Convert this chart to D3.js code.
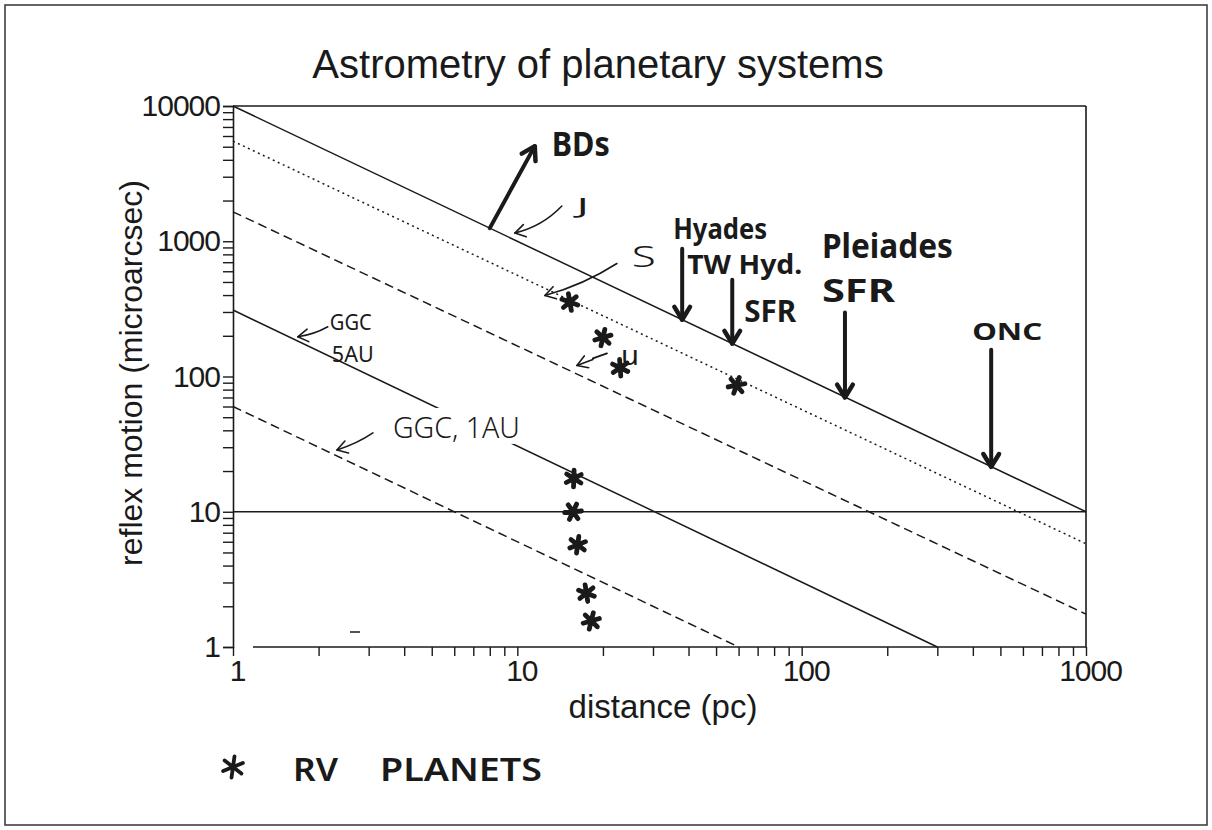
<!DOCTYPE html>
<html>
<head>
<meta charset="utf-8">
<script src="https://cdn.jsdelivr.net/npm/d3@7"></script>
<style>
  html, body { margin: 0; padding: 0; background: #fff; }
  svg { display: block; }
</style>
</head>
<body>
<svg id="chart" width="1212" height="830"></svg>
<script>
// ---- axis ticks ----
const xTickLabels = [1, 10, 100, 1000];
const yTickLabels = [1, 10, 100, 1000, 10000];

// ---- reference lines: endpoints as [distance (pc), reflex motion (microarcsec)] ----
const lineNames = ["BD limit", "Jupiter", "Saturn", "GGC 5AU", "GGC 1AU", "10 microarcsec"];
const lineFrom  = [[1, 10000], [1, 5500], [1, 1650], [1, 310], [1, 60], [1, 10]];
const lineTo    = [[1000, 10], [1000, 5.8], [1000, 1.75], [300, 1], [60, 1], [1000, 10]];
const lineDash  = [null, "2,3.5", "9,5", null, "9,5", null];

// ---- radial-velocity planets ----
const rvDist   = [15.3, 20, 23, 59, 15.8, 15.7, 16.3, 17.5, 18.2];
const rvMotion = [355, 194, 116, 86, 17.6, 10, 5.7, 2.5, 1.56];

// ---- star-forming regions / clusters (arrow tip sits on the BD line) ----
const clusterNames  = ["Hyades", "TW Hyd.", "Pleiades", "ONC"];
const clusterDist   = [38, 57, 142, 464];
const clusterMotion = [263, 175, 70, 21.5];

const W = 1212, H = 830;
const svg = d3.select("#chart");
const ink = "#1a1a1a";
const axisFont = "'Liberation Sans', Arial, Helvetica, sans-serif";
const handFont = "'Noto Sans', 'DejaVu Sans', sans-serif";

// page frame
svg.append("rect").attr("x", 5).attr("y", 5).attr("width", W - 10).attr("height", H - 10)
  .attr("fill", "none").attr("stroke", "#333").attr("stroke-width", 1.5);

const x = d3.scaleLog().domain([1, 1000]).range([233, 1086]);
const y = d3.scaleLog().domain([1, 10000]).range([647, 106]);

// title
svg.append("text").attr("x", 598).attr("y", 78).attr("text-anchor", "middle")
  .attr("font-family", axisFont).attr("font-size", 40).attr("fill", ink)
  .text("Astrometry of planetary systems");

// ---- axes ----
const gy = svg.append("g").attr("transform", `translate(${x(1)},0)`)
  .call(d3.axisLeft(y).tickValues(y.ticks()).tickSize(10).tickPadding(3)
    .tickFormat(d => yTickLabels.includes(d) ? String(d) : ""));
gy.select(".domain").attr("stroke", ink).attr("stroke-width", 1.6);
gy.selectAll(".tick line").attr("stroke", ink).attr("stroke-width", 1.4);
gy.selectAll(".tick text").attr("font-family", axisFont).attr("font-size", 30)
  .attr("fill", ink).attr("letter-spacing", -1);

const gx = svg.append("g").attr("transform", `translate(0,${y(1)})`)
  .call(d3.axisBottom(x).tickValues(x.ticks()).tickSize(9).tickPadding(4)
    .tickFormat(d => xTickLabels.includes(d) ? String(d) : ""));
gx.select(".domain").remove();
gx.selectAll(".tick line").attr("stroke", ink).attr("stroke-width", 1.4);
gx.selectAll(".tick text").attr("font-family", axisFont).attr("font-size", 30)
  .attr("fill", ink).attr("dx", 4).attr("letter-spacing", -1);

// bottom axis rule (starts a little right of the corner), top and right frame
svg.append("line").attr("x1", x(1) + 20).attr("x2", x(1000)).attr("y1", y(1)).attr("y2", y(1))
  .attr("stroke", ink).attr("stroke-width", 1.6);
svg.append("line").attr("x1", x(1)).attr("x2", x(1000)).attr("y1", y(10000)).attr("y2", y(10000))
  .attr("stroke", ink).attr("stroke-width", 1.6);
svg.append("line").attr("x1", x(1000)).attr("x2", x(1000)).attr("y1", y(10000)).attr("y2", y(1))
  .attr("stroke", ink).attr("stroke-width", 1.6);

// axis titles
svg.append("text").attr("x", 663).attr("y", 718).attr("text-anchor", "middle")
  .attr("font-family", axisFont).attr("font-size", 33).attr("fill", ink)
  .text("distance (pc)");
svg.append("text").attr("transform", "translate(142,373) rotate(-90)").attr("text-anchor", "middle")
  .attr("font-family", axisFont).attr("font-size", 32).attr("fill", ink)
  .text("reflex motion (microarcsec)");

// ---- reference lines ----
const lineGen = d3.line().x(d => x(d[0])).y(d => y(d[1]));
lineNames.forEach((name, i) => {
  svg.append("path").datum([lineFrom[i], lineTo[i]])
    .attr("class", "ref-line").attr("data-name", name)
    .attr("d", lineGen).attr("fill", "none").attr("stroke", ink)
    .attr("stroke-width", 1.5)
    .attr("stroke-dasharray", lineDash[i]);
});

// ---- hand annotations ----
const hand = svg.append("g").attr("class", "annotations");

function head(g, x1, y1, x2, y2, len, width) {
  const a = Math.atan2(y2 - y1, x2 - x1);
  const s = 0.55;
  const p = [
    [x2 - len * Math.cos(a - s), y2 - len * Math.sin(a - s)],
    [x2, y2],
    [x2 - len * Math.cos(a + s), y2 - len * Math.sin(a + s)]
  ];
  g.append("path").attr("d", d3.line()(p)).attr("fill", "none").attr("stroke", ink)
    .attr("stroke-width", width).attr("stroke-linecap", "round").attr("stroke-linejoin", "round");
}
function thickArrow(x1, y1, x2, y2) {
  hand.append("line").attr("x1", x1).attr("y1", y1).attr("x2", x2).attr("y2", y2)
    .attr("stroke", ink).attr("stroke-width", 4).attr("stroke-linecap", "round");
  head(hand, x1, y1, x2, y2, 15, 4.5);
}
function thinArrow(x1, y1, x2, y2, bend) {
  const mx = (x1 + x2) / 2, my = (y1 + y2) / 2;
  const dx = x2 - x1, dy = y2 - y1, L = Math.hypot(dx, dy);
  const cx = mx - dy / L * bend, cy = my + dx / L * bend;
  hand.append("path").attr("d", `M${x1},${y1} Q${cx},${cy} ${x2},${y2}`)
    .attr("fill", "none").attr("stroke", ink).attr("stroke-width", 1.6).attr("stroke-linecap", "round");
  head(hand, cx, cy, x2, y2, 12, 1.6);
}
function label(txt, px, py, size, weight, len) {
  const t = hand.append("text").attr("x", px).attr("y", py)
    .attr("font-family", handFont).attr("font-size", size).attr("font-weight", weight)
    .attr("fill", ink).text(txt);
  if (len) t.attr("textLength", len).attr("lengthAdjust", "spacingAndGlyphs");
  return t;
}

// brown-dwarf arrow leaving the BD line
{
  const tx = x(8), ty = y(1250);
  thickArrow(tx, ty, tx + 45, ty - 82);
  label("BDs", tx + 62, ty - 72, 34, 700, 58);
}
// J and S arrows
{
  const tx = x(9.8), ty = y(10000 / 9.8) - 7;
  thinArrow(tx + 47, ty - 27, tx, ty, -8);
  label("J", tx + 62, ty - 19, 22, 400, 12);
}
{
  const tx = x(12.5), ty = y(5500 / 12.5) + 6;
  thinArrow(tx + 72, ty - 32, tx, ty, -6);
  label("S", tx + 87, ty - 28, 30, 300, 24);
}
// u arrow and mark
{
  const tx = x(16.2), ty = y(1650 / 16.2) - 10;
  thinArrow(tx + 16, ty - 6, tx, ty, 0);
  label("u", tx + 44, ty, 28, 400, 18);
  hand.append("line").attr("x1", tx + 16).attr("y1", ty - 7).attr("x2", tx + 30).attr("y2", ty - 12)
    .attr("stroke", ink).attr("stroke-width", 2).attr("stroke-linecap", "round");
}
// GGC labels
{
  const tx = x(1.69), ty = y(300 / 1.69) - 6;
  thinArrow(tx + 30, ty - 10, tx, ty, -3);
  label("GGC", tx + 32, ty - 7, 22, 400, 42);
  label("5AU", tx + 34, ty + 25, 22, 400, 42);
}
{
  const tx = x(2.32), ty = y(60 / 2.32) - 6;
  // white patch where the label crosses the 5AU line
  hand.append("rect").attr("x", tx + 90).attr("y", ty - 42).attr("width", 92).attr("height", 36)
    .attr("fill", "#fff");
  thinArrow(tx + 36, ty - 17, tx, ty, -3);
  label("GGC, 1AU", tx + 56, ty - 12, 30, 300, 127);
}
// cluster arrows
const clusterLen = [71, 64, 85, 117];
clusterNames.forEach((n, i) => {
  const ax = x(clusterDist[i]), tip = y(clusterMotion[i]), top = tip - clusterLen[i];
  thickArrow(ax, top, ax, tip);
  if (i === 0) label(n, ax - 9, top - 10, 29, 700, 94);
  if (i === 1) { label(n, ax - 45, top - 6, 26, 700, 115); label("SFR", ax + 12, top + 42, 30, 700, 52); }
  if (i === 2) { label(n, ax - 23, top - 54, 34, 700, 131); label("SFR", ax - 23, top - 10, 32, 700, 73); }
  if (i === 3) label(n, ax - 19, top - 10, 24, 700, 70);
});

// stray pen mark near the bottom axis
hand.append("line").attr("x1", 350).attr("y1", 632).attr("x2", 360).attr("y2", 632)
  .attr("stroke", ink).attr("stroke-width", 1.5);

// ---- RV planet asterisks ----
const star = d3.symbol().type(d3.symbolAsterisk).size(200);
svg.append("g").selectAll("path").data(rvDist.map((d, i) => [d, rvMotion[i]]))
  .join("path")
  .attr("transform", (d, i) => `translate(${x(d[0])},${y(d[1])}) rotate(${(i * 23) % 40 - 10})`)
  .attr("d", star).attr("fill", "none").attr("stroke", ink)
  .attr("stroke-width", 4.8).attr("stroke-linecap", "round");

// ---- legend ----
svg.append("path").attr("transform", "translate(233,767) rotate(8)")
  .attr("d", d3.symbol().type(d3.symbolAsterisk).size(320)).attr("fill", "none")
  .attr("stroke", ink).attr("stroke-width", 3.8).attr("stroke-linecap", "round");
label("RV", 293, 781, 32, 600, 45);
label("PLANETS", 380, 781, 32, 600, 162);
</script>
</body>
</html>
